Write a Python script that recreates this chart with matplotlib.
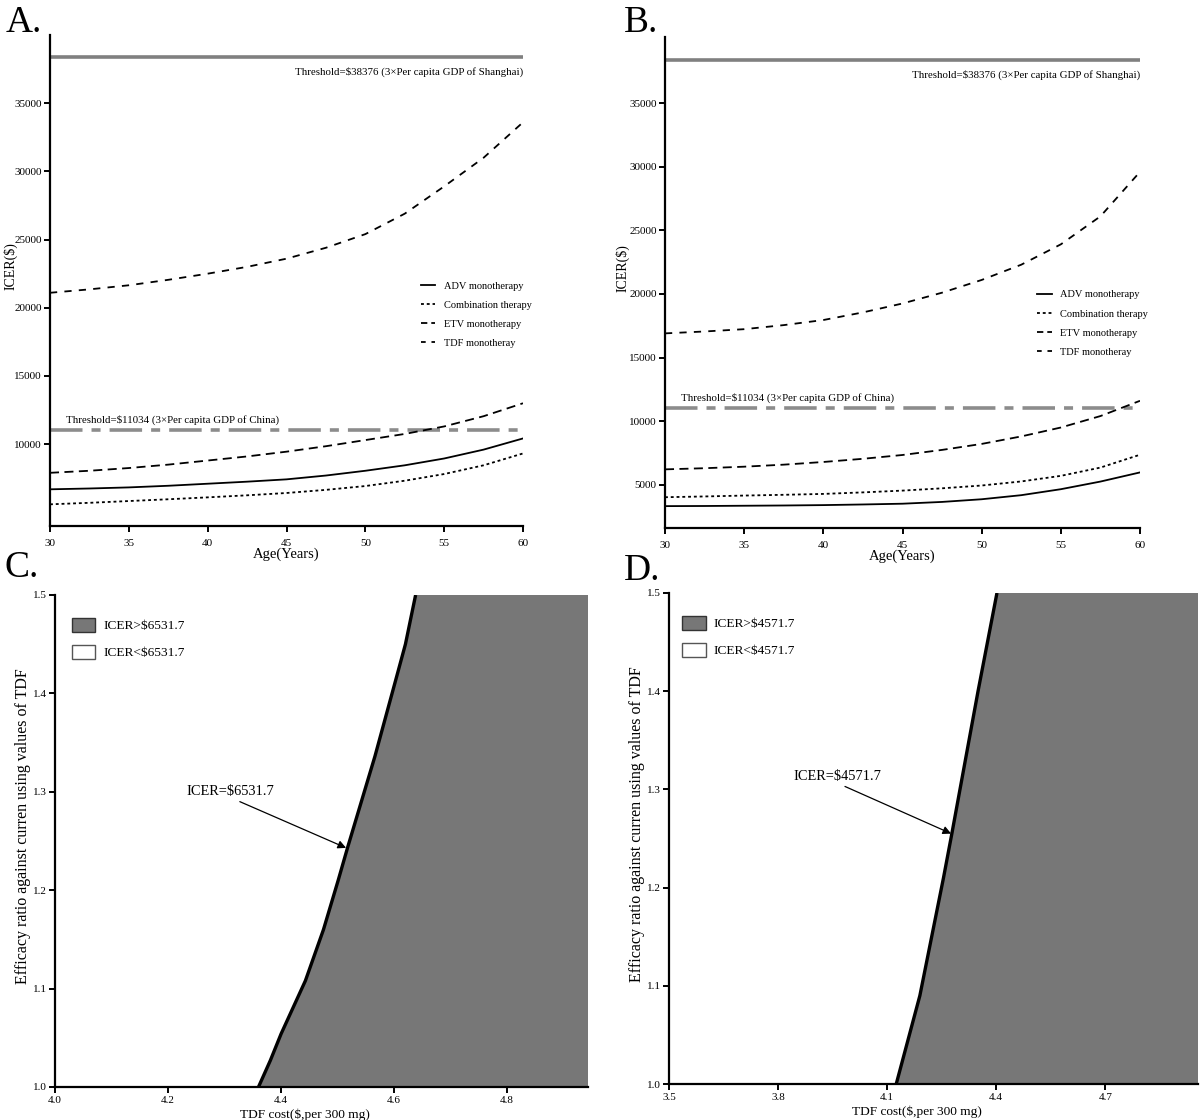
import matplotlib
matplotlib.use("Agg")
import matplotlib.pyplot as plt
from matplotlib.lines import Line2D
from matplotlib.patches import Patch

plt.rcParams["font.family"] = ["Liberation Serif", "DejaVu Serif"]

# ---- panels A / B: ICER by age ----
ages = [30, 32.5, 35, 37.5, 40, 42.5, 45, 47.5, 50, 52.5, 55, 57.5, 60]

a_adv = [6690, 6750, 6830, 6950, 7100, 7250, 7420, 7700, 8050, 8450, 8950, 9600, 10420]
a_comb = [5590, 5700, 5830, 5960, 6100, 6250, 6420, 6650, 6930, 7320, 7810, 8450, 9320]
a_etv = [21100, 21350, 21650, 22050, 22500, 23000, 23600, 24400, 25400, 26900, 28900, 31000, 33600]
a_tdf = [7900, 8050, 8250, 8500, 8800, 9100, 9450, 9850, 10300, 10750, 11300, 12050, 13000]

b_adv = [3320, 3330, 3350, 3370, 3400, 3450, 3510, 3650, 3860, 4180, 4650, 5250, 5970]
b_comb = [4020, 4080, 4150, 4210, 4280, 4400, 4540, 4720, 4940, 5260, 5700, 6350, 7360]
b_etv = [16900, 17050, 17230, 17550, 17950, 18550, 19250, 20100, 21100, 22300, 23900, 26100, 29600]
b_tdf = [6210, 6300, 6420, 6580, 6790, 7040, 7340, 7740, 8210, 8800, 9500, 10400, 11600]

threshold_shanghai = 38376
threshold_china = 11034
series_names = ["ADV monotherapy", "Combination therapy", "ETV monotherapy", "TDF monotheray"]

# ---- panels C / D: two-way sensitivity boundary ----
c_ratio = [1.0, 1.027, 1.054, 1.108, 1.16, 1.21, 1.244, 1.29, 1.336, 1.414, 1.45, 1.5]
c_cost = [4.360, 4.381, 4.400, 4.443, 4.475, 4.501, 4.518, 4.542, 4.566, 4.603, 4.620, 4.638]
c_icer = "6531.7"

d_ratio = [1.0, 1.09, 1.21, 1.255, 1.4, 1.5]
d_cost = [4.125, 4.19, 4.255, 4.278, 4.35, 4.402]
d_icer = "4571.7"

GRAY_FILL = "#777777"
# curve styles, then the (shorter) styles used for the legend keys
LINE_STYLES = ["-", (0, (1.6, 1.6)), (0, (5, 3)), (0, (4, 4))]
KEY_STYLES = ["-", (0, (1.6, 1.6)), (0, (3.5, 2.2)), (0, (2.6, 3.2))]


def style_axes(ax, xpad):
    for side in ("top", "right"):
        ax.spines[side].set_visible(False)
    for side in ("left", "bottom"):
        ax.spines[side].set_linewidth(1.6)
    ax.tick_params(direction="out", length=4, width=1.4, labelsize=8, pad=2)
    ax.tick_params(axis="x", pad=xpad)


def icer_panel(ax, series, ylim, yticks, legend_anchor, ylabel_x):
    style_axes(ax, 5)
    ax.axhline(threshold_shanghai, color="#808080", lw=2.6)
    ax.axhline(threshold_china, color="#8c8c8c", lw=2.6, dashes=(9, 2.5, 2.5, 2.5))
    handles = []
    for values, ls, ks in zip(series, LINE_STYLES, KEY_STYLES):
        ax.plot(ages, values, color="black", lw=1.3, linestyle=ls)
        handles.append(Line2D([], [], color="black", lw=1.3, linestyle=ks))
    ax.annotate("Threshold=$%d (3\u00d7Per capita GDP of Shanghai)" % threshold_shanghai,
                xy=(60, threshold_shanghai), xytext=(0, -7), textcoords="offset points",
                ha="right", va="top", fontsize=7.8)
    ax.annotate("Threshold=$%d (3\u00d7Per capita GDP of China)" % threshold_china,
                xy=(31.0, threshold_china), xytext=(0, 3.5), textcoords="offset points",
                ha="left", va="bottom", fontsize=7.8)
    ax.set_xlim(30, 60)
    ax.set_ylim(*ylim)
    ax.set_xticks([30, 35, 40, 45, 50, 55, 60])
    ax.set_yticks(yticks)
    ax.set_xlabel("Age(Years)", fontsize=10.5, labelpad=0)
    ax.set_ylabel("ICER($)", fontsize=10)
    ax.yaxis.set_label_coords(ylabel_x, 0.53)
    ax.legend(handles, series_names, loc="upper left", bbox_to_anchor=legend_anchor,
              frameon=False, fontsize=7.5, handlelength=1.4, handletextpad=0.8,
              labelspacing=0.95, borderaxespad=0)


def boundary_panel(ax, ratio, cost, xlim, xticks, icer, text_xy, arrow_from, arrow_to,
                   legend_x):
    style_axes(ax, 2.5)
    top = cost[-1]
    ax.fill_betweenx(ratio, cost, top, color=GRAY_FILL, lw=0)
    ax.fill_betweenx([ratio[0], ratio[-1]], top, xlim[1], color=GRAY_FILL, lw=0)
    ax.plot(cost, ratio, color="black", lw=2.4, solid_capstyle="butt")
    ax.set_xlim(*xlim)
    ax.set_ylim(1.0, 1.5)
    ax.set_xticks(xticks)
    ax.set_yticks([1.0, 1.1, 1.2, 1.3, 1.4, 1.5])
    ax.xaxis.set_major_formatter("{x:.1f}")
    ax.yaxis.set_major_formatter("{x:.1f}")
    ax.set_xlabel("TDF cost($,per 300 mg)", fontsize=9.6)
    ax.set_ylabel("Efficacy ratio against curren using values of TDF", fontsize=11.5)
    ax.xaxis.set_label_coords(0.468, -0.043)
    ax.yaxis.set_label_coords(-0.045, 0.53)
    ax.text(*text_xy, "ICER=$" + icer, fontsize=10.4, ha="left", va="center")
    ax.annotate("", xy=arrow_to, xytext=arrow_from,
                arrowprops=dict(arrowstyle="-|>", color="black", lw=0.9,
                                mutation_scale=12, shrinkA=0, shrinkB=0))
    patches = [Patch(facecolor=GRAY_FILL, edgecolor="#333333", lw=1.0),
               Patch(facecolor="white", edgecolor="#555555", lw=1.0)]
    ax.legend(patches, ["ICER>$" + icer, "ICER<$" + icer], loc="upper left",
              bbox_to_anchor=(legend_x, 0.965), frameon=False, fontsize=9.6,
              handlelength=1.75, handleheight=1.25, handletextpad=0.6,
              labelspacing=0.95, borderaxespad=0)


fig = plt.figure(figsize=(12, 11.2), dpi=100)
W, H = 1200, 1120
axA = fig.add_axes([50 / W, 1 - 526 / H, 473 / W, 491 / H])
axB = fig.add_axes([665 / W, 1 - 528 / H, 475 / W, 491 / H])
axC = fig.add_axes([55 / W, 1 - 1087 / H, 533 / W, 492 / H])
axD = fig.add_axes([669 / W, 1 - 1084 / H, 529 / W, 491 / H])

icer_panel(axA, [a_adv, a_comb, a_tdf, a_etv], (4000, 40000),
           [10000, 15000, 20000, 25000, 30000, 35000], (0.775, 0.507), -0.068)
icer_panel(axB, [b_adv, b_comb, b_tdf, b_etv], (1600, 40200),
           [5000, 10000, 15000, 20000, 25000, 30000, 35000], (0.775, 0.493), -0.074)

boundary_panel(axC, c_ratio, c_cost, (4.0, 4.943), [4.0, 4.2, 4.4, 4.6, 4.8], c_icer,
               (4.233, 1.30), (4.327, 1.29), (4.515, 1.243), 0.022)
boundary_panel(axD, d_ratio, d_cost, (3.5, 4.955), [3.5, 3.8, 4.1, 4.4, 4.7], d_icer,
               (3.841, 1.313), (3.984, 1.303), (4.276, 1.255), 0.015)

for label, x, y in [("A.", 6, 5), ("B.", 624, 5), ("C.", 4, 551), ("D.", 624, 553)]:
    fig.text(x / W, 1 - y / H, label, fontsize=27, ha="left", va="top")

fig.savefig("out.png", dpi=100)
